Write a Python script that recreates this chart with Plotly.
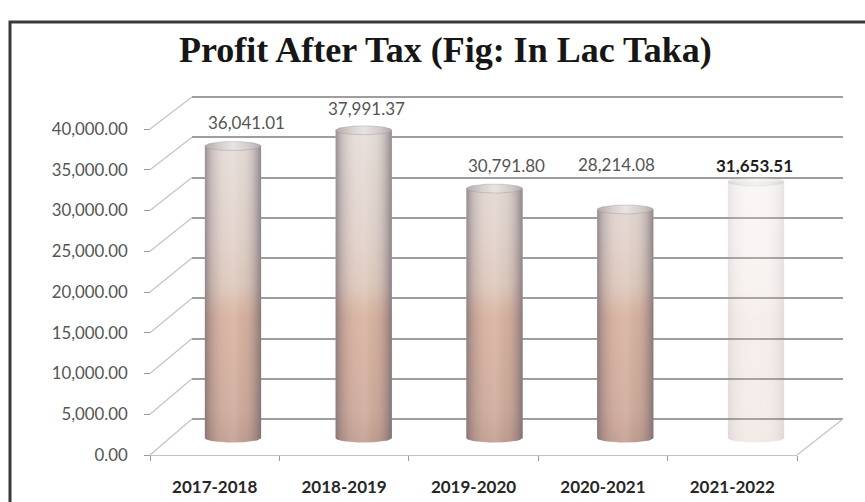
import numpy as np
import plotly.graph_objects as go

# ---- data -------------------------------------------------------------
years = ["2017-2018", "2018-2019", "2019-2020", "2020-2021", "2021-2022"]
profit = [36041.01, 37991.37, 30791.80, 28214.08, 31653.51]
y_ticks = [0, 5000, 10000, 15000, 20000, 25000, 30000, 35000, 40000]

# ---- styling ----------------------------------------------------------
W, H = 865, 502
LABEL_FONT = "Lato"
TITLE_FONT = "Liberation Serif"

# vertical band shared by every layer (pixels from the top)
PLOT_TOP, PLOT_BOT = 85, 470

# three depth planes of the pseudo-3D box: zero line (px), px per unit, left/right (px)
FRONT = dict(zero=455, k=0.00815, left=150, right=797)
MID = dict(zero=438, k=0.0081, left=167.6, right=821.4)
BACK = dict(zero=419, k=0.00805, left=192, right=843)

# data-label placement relative to each cylinder top
label_lift = [2850, 2650, 2900, 5500, 2050]
label_xshift = [14, 3, 12, -9, -2]
bar_opacity = [1, 1, 1, 1, 0.2]

GRID = "#9e9e9e"
EDGE = "#c4c4c4"


def fx(px):
    return px / W


def fy(py):
    return 1 - py / H


def yrange(plane):
    return [(plane["zero"] - PLOT_BOT) / plane["k"], (plane["zero"] - PLOT_TOP) / plane["k"]]


def plane_py(plane, v):
    return plane["zero"] - v * plane["k"]


vdom = [fy(PLOT_BOT), fy(PLOT_TOP)]

fig = go.Figure()

# ---- cylinders ----------------------------------------------------------
half_w = 0.215          # half width in category units
ry = 4.5 / MID["k"]     # ellipse half height in value units
t_half = np.linspace(0, np.pi, 40)
t_full = np.linspace(0, 2 * np.pi, 80)

body_scale = [
    [0.0, "#bd9587"], [0.08, "#c8a191"], [0.38, "#d3aa97"],
    [0.47, "#dac2b6"], [0.62, "#ddcdc6"], [1.0, "#e5dcd8"],
]
shade_scale = [
    [0.0, "rgba(100,95,108,0.60)"], [0.12, "rgba(135,125,132,0.28)"],
    [0.35, "rgba(255,248,242,0.14)"], [0.52, "rgba(255,252,248,0.20)"],
    [0.68, "rgba(215,225,210,0.10)"], [0.86, "rgba(130,120,126,0.28)"],
    [1.0, "rgba(92,88,100,0.62)"],
]
cap_scale = [[0.0, "#b3abac"], [0.25, "#d4cdcb"], [0.5, "#e9e4e2"], [0.8, "#d1cac9"], [1.0, "#b0a9aa"]]

for i, v in enumerate(profit):
    bx = [i - half_w * np.cos(t) for t in t_half] + [i + half_w, i - half_w, i - half_w]
    by = [-ry * np.sin(t) for t in t_half] + [v, v, 0]
    for grad in (
        dict(type="vertical", colorscale=body_scale, start=0, stop=40000),
        dict(type="horizontal", colorscale=shade_scale),
    ):
        fig.add_trace(go.Scatter(
            x=bx, y=by, xaxis="x3", yaxis="y3", mode="lines", fill="toself",
            line=dict(width=0), fillgradient=grad, opacity=bar_opacity[i],
            hoverinfo="skip", showlegend=False,
        ))
    cx = i + half_w * np.cos(t_full)
    cy = v + ry * np.sin(t_full)
    fig.add_trace(go.Scatter(
        x=cx, y=cy, xaxis="x3", yaxis="y3", mode="lines", fill="toself",
        line=dict(width=0.6, color="rgba(150,140,140,0.6)"),
        fillgradient=dict(type="horizontal", colorscale=cap_scale),
        opacity=min(1, bar_opacity[i] * 1.5), hoverinfo="skip", showlegend=False,
    ))

# anchor trace so the front axes are laid out
fig.add_trace(go.Scatter(x=list(range(len(years))), y=[0] * len(years),
                         xaxis="x2", yaxis="y2", mode="none",
                         hoverinfo="skip", showlegend=False))
# back-wall subplot carries the grid
fig.add_trace(go.Scatter(x=list(range(len(years))), y=[0] * len(years),
                         xaxis="x", yaxis="y", mode="none",
                         hoverinfo="skip", showlegend=False))

# ---- value labels -------------------------------------------------------
annotations = []
for i, v in enumerate(profit):
    last = i == len(profit) - 1
    txt = f"{v:,.2f}"
    annotations.append(dict(
        x=i, y=v + label_lift[i], xref="x3", yref="y3", xshift=label_xshift[i],
        text=f"<b>{txt}</b>" if last else txt, showarrow=False,
        font=dict(family=LABEL_FONT, size=17, color="#1e1e1e" if last else "#555555"),
    ))

annotations.append(dict(
    x=fx(445), y=fy(50), xref="paper", yref="paper", showarrow=False,
    xanchor="center", yanchor="middle",
    text="<b>Profit After Tax (Fig: In Lac Taka)</b>",
    font=dict(family=TITLE_FONT, size=36, color="#161616"),
))

# ---- box edges ----------------------------------------------------------
shapes = []
for t in y_ticks:
    shapes.append(dict(
        type="line", xref="paper", yref="paper",
        x0=fx(FRONT["left"]), y0=fy(plane_py(FRONT, t)),
        x1=fx(BACK["left"]), y1=fy(plane_py(BACK, t)),
        line=dict(color=EDGE, width=1.2),
    ))
shapes.append(dict(
    type="line", xref="paper", yref="paper",
    x0=fx(FRONT["right"]), y0=fy(plane_py(FRONT, 0)),
    x1=fx(BACK["right"]), y1=fy(plane_py(BACK, 0)),
    line=dict(color=EDGE, width=1.2),
))
# outer frame
shapes.append(dict(
    type="rect", xref="paper", yref="paper",
    x0=fx(10), y0=fy(22), x1=1.05, y1=-0.05,
    line=dict(color="#3a3a3a", width=3),
))

fig.update_layout(
    width=W, height=H,
    margin=dict(l=0, r=0, t=0, b=0),
    paper_bgcolor="white", plot_bgcolor="rgba(0,0,0,0)",
    showlegend=False,
    annotations=annotations,
    shapes=shapes,
    # back wall: gridlines
    xaxis=dict(domain=[fx(BACK["left"]), fx(BACK["right"])], range=[-0.5, 4.5],
               showgrid=False, zeroline=False, showticklabels=False, ticks="",
               fixedrange=True),
    yaxis=dict(domain=vdom, range=yrange(BACK), tickvals=y_ticks,
               showgrid=True, gridcolor=GRID, gridwidth=1.6,
               zeroline=True, zerolinecolor=GRID, zerolinewidth=1.6,
               showticklabels=False, ticks="", fixedrange=True),
    # front plane: tick labels and floor edge
    xaxis2=dict(domain=[fx(FRONT["left"]), fx(FRONT["right"])], range=[-0.5, 4.5],
                anchor="free", position=fy(FRONT["zero"]),
                tickvals=list(range(len(years))), ticktext=years, ticks="",
                minor=dict(tick0=-0.5, dtick=1, ticks="outside", ticklen=5,
                           tickcolor="#9a9a9a", showgrid=False),
                showline=True, linecolor=EDGE, linewidth=1.2,
                showgrid=False, zeroline=False, ticklabelstandoff=16,
                tickfont=dict(family=LABEL_FONT, size=17, color="#262626", weight="bold"),
                fixedrange=True),
    yaxis2=dict(domain=vdom, range=yrange(FRONT), anchor="free", position=fx(FRONT["left"]),
                tickvals=y_ticks, tickformat=",.2f", ticks="outside", ticklen=6,
                tickcolor="#9a9a9a", showline=False, showgrid=False, zeroline=False,
                ticklabelstandoff=13,
                tickfont=dict(family=LABEL_FONT, size=16.8, color="#555555"),
                fixedrange=True),
    # middle plane: cylinders
    xaxis3=dict(domain=[fx(MID["left"]), fx(MID["right"])], range=[-0.5, 4.5],
                visible=False, fixedrange=True),
    yaxis3=dict(domain=vdom, range=yrange(MID), visible=False, fixedrange=True),
)

fig.write_html("out.html")
